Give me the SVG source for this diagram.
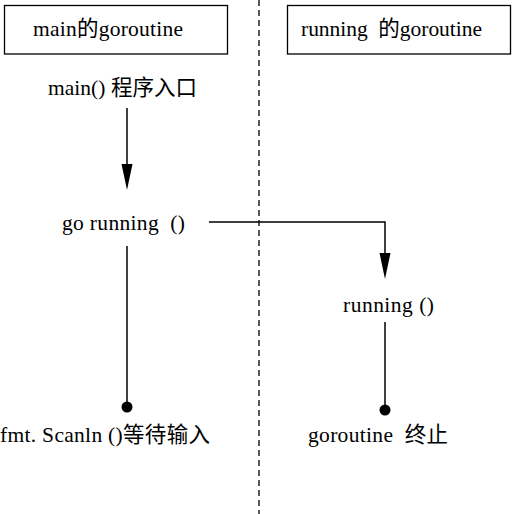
<svg xmlns="http://www.w3.org/2000/svg" width="512" height="514" viewBox="0 0 512 514">
<style>
text{font-family:"Liberation Serif","Noto Sans CJK SC",serif;font-size:21.5px;fill:#000;white-space:pre}
.box{fill:#fff;stroke:#000;stroke-width:1.3}
.ln{fill:none;stroke:#000;stroke-width:1.5}
.head{fill:#000}
</style>
<rect width="512" height="514" fill="#fff"/>
<line x1="259" y1="0" x2="259" y2="514" stroke="#000" stroke-width="1.3" stroke-dasharray="6,4"/>
<g id="connectors">
<line class="ln" x1="127" y1="108" x2="127" y2="165"/>
<path class="head" d="M121.5,164 L132.5,164 L127,190 Z"/>
<polyline class="ln" points="209,222 385,222 385,254"/>
<path class="head" d="M379.5,253 L390.5,253 L385,279 Z"/>
<line class="ln" x1="127" y1="246" x2="127" y2="406"/>
<circle class="head" cx="127" cy="407" r="5.5"/>
<line class="ln" x1="385" y1="322" x2="385" y2="409"/>
<circle class="head" cx="385" cy="410" r="5.5"/>
</g>
<g id="main-goroutine">
<rect class="box" x="4.5" y="5.5" width="223" height="48.5"/>
<text x="33" y="36" textLength="150">main的goroutine</text>
</g>
<g id="running-goroutine">
<rect class="box" x="287.5" y="5.5" width="223" height="48.5"/>
<text x="301" y="36" textLength="181">running  的goroutine</text>
</g>
<g id="main-entry"><text x="48" y="95" textLength="149">main() 程序入口</text></g>
<g id="go-running"><text x="62" y="230" textLength="123">go running  ()</text></g>
<g id="running"><text x="343" y="312" textLength="91">running ()</text></g>
<g id="scanln"><text x="0" y="442" textLength="210">fmt. Scanln ()等待输入</text></g>
<g id="terminate"><text x="308" y="442" textLength="140">goroutine  终止</text></g>
</svg>
